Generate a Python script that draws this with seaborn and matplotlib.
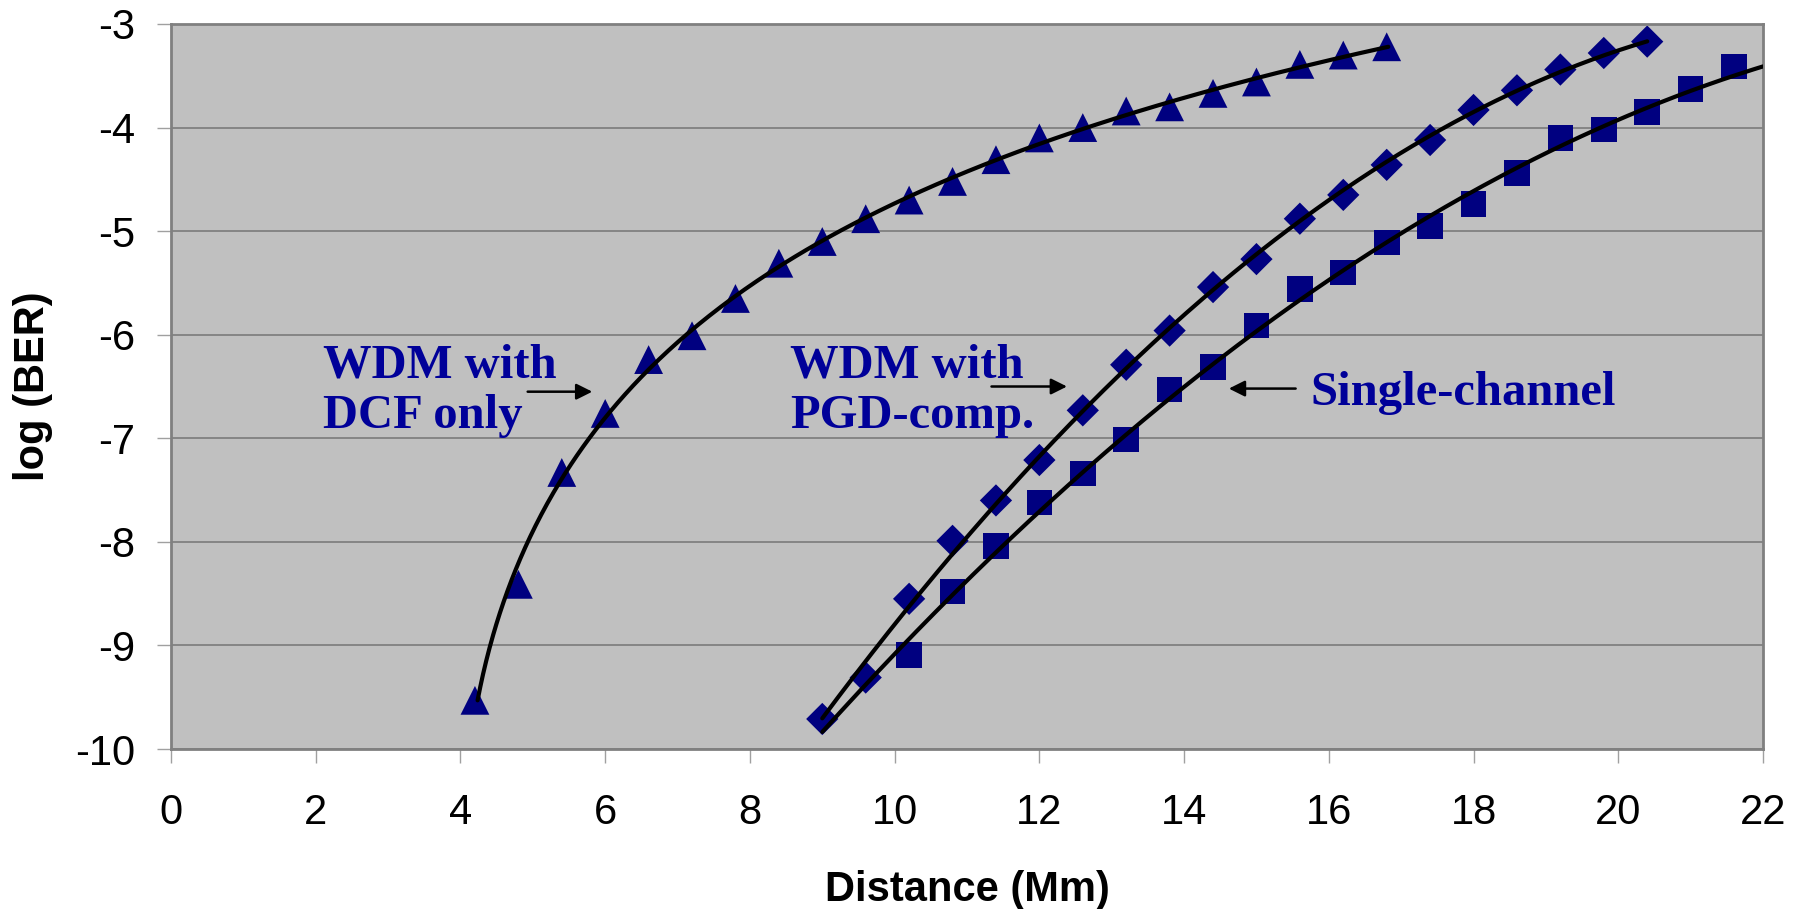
import numpy as np
import pandas as pd
import matplotlib
matplotlib.use("Agg")
import matplotlib.pyplot as plt
import seaborn as sns

# Måledata lest av figuren (avstand i Mm, log(BER))
dcf_x = [4.2, 4.8, 5.4, 6.0, 6.6, 7.2, 7.8, 8.4, 9.0, 9.6, 10.2, 10.8, 11.4,
         12.0, 12.6, 13.2, 13.8, 14.4, 15.0, 15.6, 16.2, 16.8]
dcf_y = [-9.53, -8.41, -7.33, -6.76, -6.24, -6.01, -5.65, -5.31, -5.10, -4.88, -4.70,
         -4.52, -4.31, -4.10, -4.00, -3.84, -3.80, -3.67, -3.56, -3.39, -3.30, -3.22]

pgd_x = [9.0, 9.6, 10.2, 10.8, 11.4, 12.0, 12.6, 13.2, 13.8, 14.4, 15.0, 15.6, 16.2,
         16.8, 17.4, 18.0, 18.6, 19.2, 19.8, 20.4]
pgd_y = [-9.71, -9.31, -8.55, -7.99, -7.60, -7.21, -6.73, -6.29, -5.96, -5.54, -5.27,
         -4.88, -4.65, -4.36, -4.12, -3.83, -3.64, -3.44, -3.28, -3.17]

single_x = [10.2, 10.8, 11.4, 12.0, 12.6, 13.2, 13.8, 14.4, 15.0, 15.6, 16.2, 16.8,
            17.4, 18.0, 18.6, 19.2, 19.8, 20.4, 21.0, 21.6]
single_y = [-9.09, -8.48, -8.04, -7.62, -7.34, -7.01, -6.53, -6.31, -5.91, -5.56, -5.40,
            -5.11, -4.95, -4.74, -4.44, -4.10, -4.02, -3.85, -3.63, -3.41]

x_ticks = [0, 2, 4, 6, 8, 10, 12, 14, 16, 18, 20, 22]
y_ticks = [-10, -9, -8, -7, -6, -5, -4, -3]

marker_color = "#000080"
text_color = "#000099"


def trend(x, y, deg, x_min, x_max):  # Polynomisk trendlinje y(x)
    coef = np.polyfit(x, y, deg)
    xs = np.linspace(x_min, x_max, 300)
    return pd.DataFrame({"x": xs, "y": np.polyval(coef, xs)})


def trend_inv(x, y, deg):  # Trendlinje som ln(x) = p(y), for den bratte kurven
    coef = np.polyfit(y, np.log(x), deg)
    ys = np.linspace(min(y), max(y), 300)
    return pd.DataFrame({"x": np.exp(np.polyval(coef, ys)), "y": ys})


sns.set_style("white")
plt.rcParams["font.family"] = ["Liberation Sans", "DejaVu Sans"]
plt.rcParams["axes.unicode_minus"] = False

fig = plt.figure(figsize=(18.08, 9.09), dpi=100)
ax = fig.add_axes([0.0946, 0.176, 0.8805, 0.7976])
ax.set_facecolor("#C0C0C0")

# Trendlinjer
curves = [trend_inv(dcf_x, dcf_y, 3),
          trend(pgd_x, pgd_y, 2, 9.0, 20.4),
          trend(single_x, single_y, 2, 9.0, 22.0)]
for t in curves:
    sns.lineplot(data=t, x="x", y="y", color="black", linewidth=3, sort=False, ax=ax, zorder=3)

# Målepunkter
sns.scatterplot(x=dcf_x, y=dcf_y, marker="^", s=430, color=marker_color, edgecolor="none", ax=ax, zorder=2)
sns.scatterplot(x=single_x, y=single_y, marker="s", s=340, color=marker_color, edgecolor="none", ax=ax, zorder=2)
sns.scatterplot(x=pgd_x, y=pgd_y, marker="D", s=270, color=marker_color, edgecolor="none", ax=ax, zorder=2)

ax.set_xlim(0, 22)
ax.set_ylim(-10, -3)
ax.set_xticks(x_ticks)
ax.set_yticks(y_ticks)
ax.grid(axis="y", color="#808080", linewidth=1.3)
ax.grid(axis="x", visible=False)
ax.set_axisbelow(True)
for side in ["top", "right", "left", "bottom"]:
    ax.spines[side].set_color("#808080")
    ax.spines[side].set_linewidth(2)
ax.tick_params(axis="both", direction="out", length=10, width=1, color="#A0A0A0",
               labelsize=30, labelcolor="black", bottom=True, left=True)
ax.tick_params(axis="x", pad=22)
ax.tick_params(axis="y", pad=16)

ax.set_xlabel("Distance (Mm)", fontsize=30, fontweight="bold", color="black", labelpad=26)
ax.set_ylabel("log (BER)", fontsize=30, fontweight="bold", color="black", labelpad=16)

# Merknader
serif = ["Liberation Serif", "DejaVu Serif"]
ax.text(2.10, -6.54, "WDM with\nDCF only", family=serif, fontsize=35, fontweight="bold",
        color=text_color, va="center", ha="left", linespacing=1.2)
ax.text(8.56, -6.54, "WDM with\nPGD-comp.", family=serif, fontsize=35, fontweight="bold",
        color=text_color, va="center", ha="left", linespacing=1.2)
ax.text(15.75, -6.68, "Single-channel", family=serif, fontsize=35, fontweight="bold",
        color=text_color, va="baseline", ha="left")

arrow = dict(arrowstyle="-|>", color="black", lw=1.8, mutation_scale=24)
ax.annotate("", xy=(5.86, -6.55), xytext=(4.89, -6.55), arrowprops=arrow)
ax.annotate("", xy=(12.42, -6.50), xytext=(11.30, -6.50), arrowprops=arrow)
ax.annotate("", xy=(14.58, -6.52), xytext=(15.58, -6.52), arrowprops=arrow)

fig.savefig("out.png", dpi=100, facecolor="white")
